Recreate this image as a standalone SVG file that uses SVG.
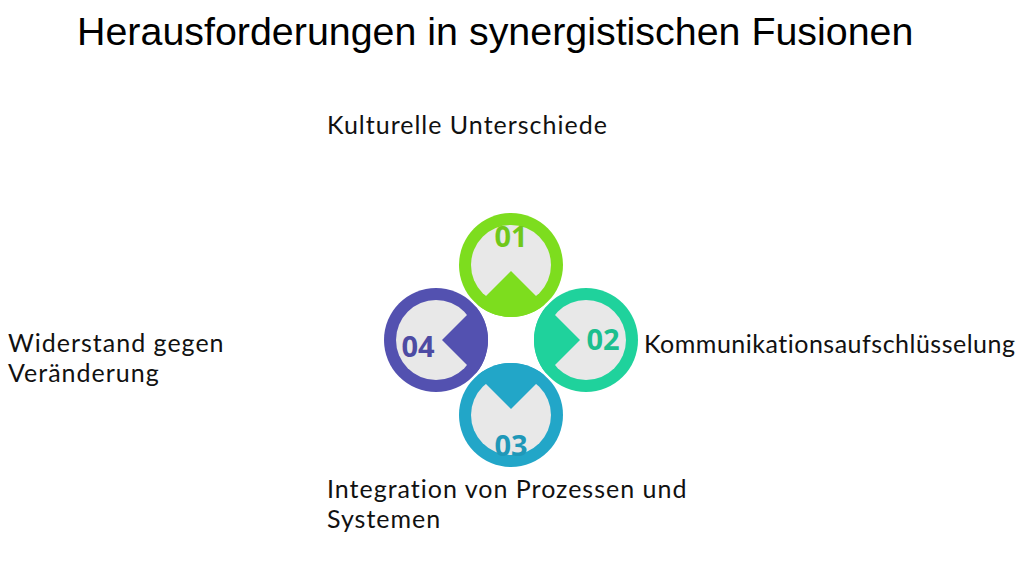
<svg xmlns="http://www.w3.org/2000/svg" width="1024" height="576" viewBox="0 0 1024 576">
<style>
.title{font-family:"Liberation Sans",Arial,sans-serif;font-size:39.4px;fill:#000}
.lbl{font-family:Lato,"Open Sans",sans-serif;font-size:25px;letter-spacing:1px;fill:#111}
.num{font-family:"Open Sans","Noto Sans",sans-serif;font-size:29px;font-weight:bold;text-anchor:middle}
.inner{fill:#e8e8e8}
.sep{stroke:#fff;stroke-width:2}
</style>
<defs>
<clipPath id="c1"><circle cx="511" cy="265" r="52"/></clipPath>
<clipPath id="c2"><circle cx="586" cy="340" r="52"/></clipPath>
<clipPath id="c3"><circle cx="511" cy="415" r="52"/></clipPath>
<clipPath id="c4"><circle cx="436" cy="340" r="52"/></clipPath>
</defs>
<rect width="1024" height="576" fill="#fff"/>
<text class="title" x="77" y="45">Herausforderungen in synergistischen Fusionen</text>
<g id="node1">
<circle cx="511" cy="265" r="52" fill="#7ddd1e"/>
<circle class="inner" cx="511" cy="265" r="40"/>
<polygon points="511,271 476,306 511,341 546,306" fill="#7ddd1e" clip-path="url(#c1)"/>
<text class="num" x="511" y="247" fill="#70c81a">01</text>
<text class="lbl" x="327" y="134">Kulturelle Unterschiede</text>
</g>
<g id="node2">
<circle cx="586" cy="340" r="52" fill="#1fd29c"/>
<circle class="inner" cx="586" cy="340" r="40"/>
<polygon points="580,340 545,305 510,340 545,375" fill="#1fd29c" clip-path="url(#c2)"/>
<text class="num" x="603" y="350" fill="#1cbf8e">02</text>
<text class="lbl" x="644" y="353" style="letter-spacing:0.5px">Kommunikationsaufschlüsselung</text>
</g>
<g id="node3">
<circle cx="511" cy="415" r="52" fill="#22a6c8"/>
<circle class="inner" cx="511" cy="415" r="40"/>
<polygon points="511,409 546,374 511,339 476,374" fill="#22a6c8" clip-path="url(#c3)"/>
<text class="num" x="511" y="456" fill="#1f98b8">03</text>
<text class="lbl" x="327" y="498">Integration von Prozessen und</text>
<text class="lbl" x="327" y="528">Systemen</text>
</g>
<g id="node4">
<circle cx="436" cy="340" r="52" fill="#5351b0"/>
<circle class="inner" cx="436" cy="340" r="40"/>
<polygon points="442,340 477,375 512,340 477,305" fill="#5351b0" clip-path="url(#c4)"/>
<text class="num" x="418" y="357" fill="#4d4ba3">04</text>
<text class="lbl" x="8" y="352">Widerstand gegen</text>
<text class="lbl" x="8" y="382">Veränderung</text>
</g>
<g id="connectors">
<line class="sep" x1="461" y1="290" x2="561" y2="390"/>
<line class="sep" x1="561" y1="290" x2="461" y2="390"/>
</g>
</svg>
